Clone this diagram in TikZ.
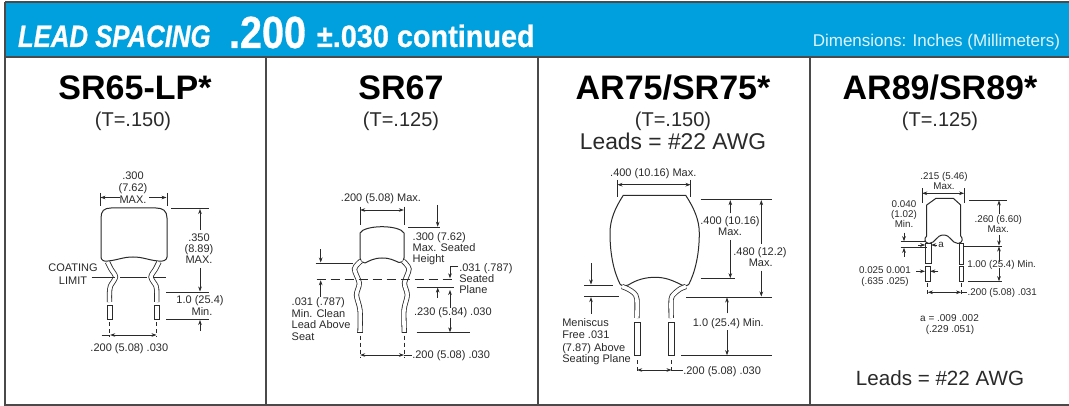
\documentclass[tikz,border=0pt]{standalone}
\usepackage{fontspec}
\setmainfont{Liberation Sans}
\newfontfamily\hb[UprightFont={* Bold},ItalicFont={* Bold Italic},BoldFont={* Bold},FakeBold=0.7]{Liberation Sans}
\usetikzlibrary{arrows.meta}
\definecolor{band}{HTML}{00A0DF}
\definecolor{ink}{HTML}{2A2A2A}
\definecolor{frame}{HTML}{4A4A4A}
\newcommand{\fs}[1]{\fontsize{#1}{#1}\selectfont}
\tikzset{
  x=1pt,y=-1pt,
  every node/.style={inner sep=0pt,outer sep=0pt},
  framel/.style={draw=frame,line width=1.3pt},
  outl/.style={draw=ink,line width=1pt,line join=round},
  extl/.style={draw=ink,line width=.6pt},
  arr/.style={draw=ink,line width=.6pt,-{Stealth[length=5pt,width=3.6pt]}},
  arrb/.style={draw=ink,line width=.6pt,{Stealth[length=5pt,width=3.6pt]}-{Stealth[length=5pt,width=3.6pt]}},
  dashl/.style={draw=ink,line width=.7pt,dash pattern=on 4pt off 3pt},
  leadl/.style={draw=ink,line width=.8pt,double=white,double distance=3.6pt},
  pin/.style={draw=ink,line width=.8pt,fill=white},
  title/.style={anchor=base,font=\fs{34}\bfseries,text=black},
  sub/.style={anchor=base,font=\fs{20},text=ink},
  sm/.style={anchor=base,font=\fs{11},text=ink},
  sml/.style={anchor=base west,font=\fs{11},text=ink},
  ti/.style={anchor=base,font=\fs{9.8},text=ink},
  til/.style={anchor=base west,font=\fs{9.8},text=ink},
  head/.style={anchor=base west,text=white},
}
\begin{document}
\begin{tikzpicture}
\useasboundingbox (0,0) rectangle (1069,406);
\fill[white] (0,0) rectangle (1069,406);
% frame and band
\fill[band] (5,2) rectangle (1069,57);
\draw[framel] (5,2) -- (1069,2);
\draw[framel] (5,2) -- (5,405) -- (1069,405);
\draw[framel] (5,57) -- (1069,57);
\draw[framel] (266,57) -- (266,405);
\draw[framel] (538,57) -- (538,405);
\draw[framel] (810,57) -- (810,405);
% header
\node[head] (h1) at (18,47) {\fs{31}\hb\scalebox{.83}[1]{\itshape LEAD SPACING}};
\node[head] (h2) at (229,48) {\fs{45}\hb\scalebox{.88}[1]{.200}};
\node[head] (h3) at (317,47) {\fs{31}\hb\scalebox{.93}[1]{±.030 continued}};
\node[anchor=base east,text=white!88!band,font=\fs{17}] (h4) at (1060,47) {Dimensions: Inches (Millimeters)};
% titles
\node[title] (t1) at (135,100) {SR65-LP*};
\node[sub] (s1) at (133,127) {(T=.150)};
\node[title] (t2) at (401,100) {SR67};
\node[sub] (s2) at (401,127) {(T=.125)};
\node[title] (t3) at (673,100) {AR75/SR75*};
\node[sub] (s3) at (673,127) {(T=.150)};
\node[anchor=base,font=\fs{22.8},text=ink] (s3b) at (673,150) {Leads = \#22 AWG};
\node[title] (t4) at (940,100) {AR89/SR89*};
\node[sub] (s4) at (940,127) {(T=.125)};
\node[anchor=base,font=\fs{20.6},text=ink] (s4b) at (940,385) {Leads = \#22 AWG};

% ---------- panel 1
\draw[outl] (101,257) -- (101,218) .. controls (101,211) and (104,208) .. (111,208) -- (156,208)
  .. controls (163,208) and (167,211) .. (167,218) -- (167,257)
  .. controls (167,260) and (163,262) .. (158,261)
  .. controls (148,260) and (143,257) .. (133,257)
  .. controls (123,257) and (118,260) .. (108,261)
  .. controls (104,262) and (101,260) .. (101,257) -- cycle;
\draw[leadl] plot[smooth] coordinates {(107.5,262) (111,269) (115.5,277) (110.5,286) (109.5,293) (109.5,302)};
\draw[leadl] plot[smooth] coordinates {(159,262) (155.5,269) (151,277) (156,286) (156.8,293) (156.8,302)};
\draw[pin] (107.3,305) rectangle (112.3,319);
\draw[pin] (154.3,305) rectangle (159.3,319);
\draw[extl] (100,193) -- (100,206);
\draw[extl] (167,193) -- (167,206);
\draw[arr] (120,197.5) -- (100.5,197.5);
\draw[arr] (149,197.5) -- (166.5,197.5);
\node[sm] (p1a) at (133,180) {.300};
\node[sm] (p1b) at (133,191.7) {(7.62)};
\node[sm] (p1c) at (133,204) {MAX.};
\draw[extl] (171,208.5) -- (209,208.5);
\draw[arr] (200,230) -- (200,209);
\draw[arr] (200,268) -- (200,291.5);
\node[sm] (p1d) at (199,241.7) {.350};
\node[sm] (p1e) at (199,252.7) {(8.89)};
\node[sm] (p1f) at (199,264) {MAX.};
\draw[extl] (166,292) -- (209,292);
\node[sm] (p1g) at (200,304) {1.0 (25.4)};
\node[sm] (p1h) at (202,315.7) {Min.};
\draw[extl] (166,319) -- (209,319);
\draw[arr] (200,331) -- (200,320);
\node[sm] (p1i) at (73,271.7) {COATING};
\node[sm] (p1j) at (73,284) {LIMIT};
\draw[extl] (91.7,277.7) -- (115,277.7);
\draw[extl] (120,277.7) -- (147,277.7);
\draw[extl] (153,277.7) -- (166,277.7);
\draw[dashl] (109.7,322) -- (109.7,337);
\draw[dashl] (156.7,322) -- (156.7,337);
\draw[extl] (101.7,335) -- (110,335);
\draw[arrb] (110.2,335) -- (156.5,335);
\node[sm] (p1k) at (129.3,351) {.200 (5.08) .030};

% ---------- panel 2
\draw[outl] (360,258) -- (360,233) .. controls (362,229) and (372,226.7) .. (382,226.7)
  .. controls (392,226.7) and (402,229) .. (404,233) -- (404,258)
  .. controls (404,261) and (403,262) .. (399,262.5)
  .. controls (393,260) and (390,258) .. (382,258)
  .. controls (374,258) and (369,261) .. (365,263)
  .. controls (362,263) and (360,261) .. (360,258) -- cycle;
\draw[leadl] plot[smooth] coordinates {(361,261) (354.5,269) (359.3,283) (356.5,295) (360,310) (360,332.5)};
\draw[leadl] plot[smooth] coordinates {(403,261) (409,269) (404.5,283) (407.3,295) (404,310) (404.3,332.5)};
\draw[draw=ink,line width=.8pt] (357.4,332.5) -- (362.6,332.5);
\draw[draw=ink,line width=.8pt] (401.7,332.5) -- (406.9,332.5);
\node[sm] (p2a) at (381,201.7) {.200 (5.08) Max.};
\draw[extl] (360,206.7) -- (360,225);
\draw[extl] (404,206.7) -- (404,225);
\draw[arrb] (360.2,210) -- (403.8,210);
\draw[extl] (408,227.3) -- (440,227.3);
\draw[arr] (437.7,205) -- (437.7,226.7);
\node[sml] (p2b) at (412.7,240.7) {.300 (7.62)};
\node[sml] (p2c) at (412.7,251.7) {Max. Seated};
\node[sml] (p2d) at (412.7,262.3) {Height};
\node[sml] (p2e) at (459.3,271.7) {.031 (.787)};
\node[sml] (p2f) at (459.3,282.7) {Seated};
\node[sml] (p2g) at (459.3,294) {Plane};
\draw[arr] (458,266) -- (450,266) -- (450,278.3);
\draw[dashl,dash pattern=on 9pt off 5pt] (316.7,279.3) -- (453,279.3);
\draw[extl] (416.7,287.3) -- (454,287.3);
\draw[arr] (437.7,298) -- (437.7,287.6);
\draw[arr] (450,308) -- (450,290);
\draw[arr] (450,318) -- (450,332.3);
\draw[extl] (416.7,332.7) -- (470,332.7);
\node[sml] (p2h) at (414,315.7) {.230 (5.84) .030};
\draw[extl] (315.7,263) -- (352.7,263);
\draw[arr] (320.7,249.3) -- (320.7,262.5);
\draw[arr] (320.7,296.7) -- (320.7,280.3);
\node[sml] (p2i) at (291.7,305.7) {.031 (.787)};
\node[sml] (p2j) at (291.7,317.3) {Min. Clean};
\node[sml] (p2k) at (291.7,329) {Lead Above};
\node[sml] (p2l) at (291.7,340) {Seat};
\draw[dashl] (360,335.7) -- (360,357);
\draw[dashl] (404.3,335.7) -- (404.3,357);
\draw[arrb] (360.2,355) -- (404,355);
\draw[extl] (404,355) -- (411.7,355);
\node[sml] (p2m) at (412.3,359) {.200 (5.08) .030};

% ---------- panel 3
\draw[outl] (623.3,195.3) -- (685.7,195.3)
  .. controls (694,208) and (699.3,220) .. (699.3,233)
  .. controls (699.3,255) and (695,272) .. (689,284)
  .. controls (688,286) and (684,286) .. (681.7,285)
  .. controls (672,280) and (665,277.3) .. (655,277.3)
  .. controls (645,277.3) and (636,280) .. (628.3,285)
  .. controls (625,286) and (621,286) .. (620,284)
  .. controls (614,272) and (610,255) .. (610,233)
  .. controls (610,220) and (615,208) .. (623.3,195.3) -- cycle;
\draw[leadl] plot[smooth] coordinates {(622,286.5) (628,289) (634,293) (636.9,299) (636.9,318)};
\draw[leadl] plot[smooth] coordinates {(686,286.5) (680,289) (674,294) (671.2,299) (671.2,318)};
\draw[pin] (634.3,322.7) rectangle (640,355.7);
\draw[pin] (668.7,322.7) rectangle (674.3,355.7);
\node[sm] (p3a) at (653.3,176.7) {.400 (10.16) Max.};
\draw[extl] (617.3,180) -- (617.3,196.7);
\draw[extl] (690.7,180) -- (690.7,196.7);
\draw[arrb] (617.5,184.7) -- (690.5,184.7);
\draw[extl] (700.7,199.7) -- (772.3,199.7);
\draw[extl] (700.7,278.7) -- (735,278.7);
\draw[extl] (686,297) -- (772.3,297);
\draw[extl] (681,355.7) -- (772.3,355.7);
\draw[arr] (730.3,213.3) -- (730.3,200.2);
\draw[arr] (730.3,240) -- (730.3,278.2);
\draw[arr] (761.3,244) -- (761.3,200.2);
\draw[arr] (761.3,270.7) -- (761.3,296.5);
\draw[arr] (727,313.3) -- (727,297.5);
\draw[arr] (727,330) -- (727,355.2);
\node[sm] (p3b) at (730,224.7) {.400 (10.16)};
\node[sm] (p3c) at (730,236) {Max.};
\node[sm] (p3d) at (760,255.3) {.480 (12.2)};
\node[sm] (p3e) at (760.7,266.7) {Max.};
\node[sm] (p3f) at (728.3,326.7) {1.0 (25.4) Min.};
\draw[extl] (584.3,285) -- (612.7,285);
\draw[extl] (584.3,296.7) -- (619.3,296.7);
\draw[arr] (591,263.3) -- (591,284.5);
\draw[arr] (591,314) -- (591,297.2);
\node[sml] (p3g) at (562.3,326.7) {Meniscus};
\node[sml] (p3h) at (562.3,338.3) {Free .031};
\node[sml] (p3i) at (562.3,351) {(7.87) Above};
\node[sml] (p3j) at (562.3,362.7) {Seating Plane};
\draw[dashl] (637,360) -- (637,372);
\draw[dashl] (671.7,360) -- (671.7,372);
\draw[arrb] (637.2,370) -- (671.5,370);
\draw[extl] (671.5,370) -- (682.7,370);
\node[sml] (p3k) at (683.3,374) {.200 (5.08) .030};

% ---------- panel 4
\draw[outl] (936,198.3) -- (953.3,198.3) -- (960.7,205) -- (960.7,236)
  .. controls (963,238) and (963,243) .. (958,243.5)
  .. controls (951,243) and (951,235) .. (943.5,235)
  .. controls (936,235) and (936,243) .. (929,243.5)
  .. controls (924,243) and (924,238) .. (926.7,236)
  -- (926.7,205) -- cycle;
\draw[pin] (925.3,243.5) rectangle (931,263.3);
\draw[pin] (959,243.5) rectangle (963.3,264);
\draw[pin] (925.3,266.7) rectangle (930,281.7);
\draw[pin] (959,266.7) rectangle (963.3,281.7);
\node[ti] (p4a) at (944,180) {.215 (5.46)};
\node[ti] (p4b) at (944,189.3) {Max.};
\draw[extl] (922,188.3) -- (922,202.7);
\draw[extl] (964.3,188.3) -- (964.3,202.7);
\draw[arrb] (922.2,193.3) -- (964.1,193.3);
\draw[extl] (969.3,200) -- (1006.7,200);
\draw[extl] (963,246) -- (1001.7,246);
\draw[extl] (968.3,281.7) -- (1001.7,281.7);
\draw[arr] (999,214) -- (999,200.5);
\draw[arr] (999,235) -- (999,245.5);
\draw[arr] (999,261.7) -- (999,246.5);
\draw[arr] (999,268.3) -- (999,281.2);
\node[ti] (p4c) at (998.3,222.3) {.260 (6.60)};
\node[ti] (p4d) at (998.3,232.3) {Max.};
\node[til] (p4e) at (967.3,267.3) {1.00 (25.4) Min.};
\node[ti] (p4f) at (904,207.7) {0.040};
\node[ti] (p4g) at (904,217.3) {(1.02)};
\node[ti] (p4h) at (904,227.7) {Min.};
\draw[arr] (904,232.7) -- (904,241.2);
\draw[arr] (904,256.7) -- (904,247.8);
\draw[extl] (900.7,241.7) -- (925,241.7);
\draw[extl] (900.7,247.3) -- (926.7,247.3);
\node[ti] (p4i) at (941,247.3) {a};
\draw[arr] (936.7,245) -- (931.2,245);
\draw[arr] (918,245) -- (925.2,245);
\draw[arr] (916,271.3) -- (925,271.3);
\draw[arr] (938.3,271.3) -- (930.2,271.3);
\node[ti] (p4j) at (885,274) {0.025 0.001};
\node[ti] (p4k) at (885,285) {(.635 .025)};
\draw[dashl] (927.7,283.3) -- (927.7,294);
\draw[dashl] (961.3,283.3) -- (961.3,294);
\draw[arrb] (927.9,292.3) -- (961.1,292.3);
\draw[extl] (961.1,292.3) -- (967.3,292.3);
\node[til] (p4l) at (967.7,295) {.200 (5.08) .031};
\node[anchor=base,font=\fs{10},text=ink] (p4m) at (949.5,321.7) {a = .009 .002};
\node[anchor=base,font=\fs{10},text=ink] (p4n) at (950,332.3) {(.229 .051)};
\end{tikzpicture}
\end{document}
